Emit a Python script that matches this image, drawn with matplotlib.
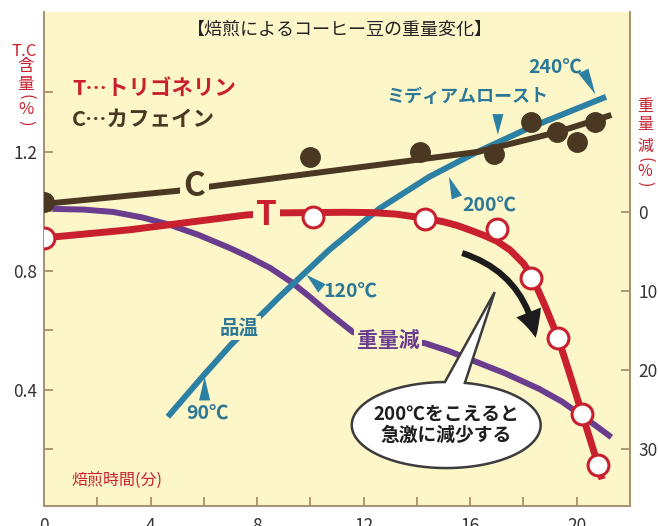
import matplotlib
matplotlib.use('Agg')
import matplotlib.pyplot as plt
import numpy as np
from matplotlib.path import Path
from matplotlib.patches import PathPatch

plt.rcParams['font.family'] = ['Noto Sans CJK JP', 'DejaVu Sans']

# ---------------- data ----------------
# roasting time in minutes
caffeine_t = [0, 10.0, 14.1, 16.9, 18.3, 19.25, 20.0, 20.7]
caffeine_v = [1.03, 1.183, 1.20, 1.193, 1.30, 1.267, 1.234, 1.30]
caffeine_fit_t = [0, 5, 8.8, 12, 16.3, 19.3, 21.3]
caffeine_fit_v = [1.025, 1.069, 1.113, 1.15, 1.20, 1.267, 1.324]

trig_t = [0, 10.1, 14.3, 17.0, 18.3, 19.3, 20.2, 20.8]
trig_v = [0.911, 0.98, 0.975, 0.94, 0.776, 0.575, 0.32, 0.148]
trig_fit_t = [0, 3.2, 7.6, 8.8, 10.1, 11.3, 12.3, 13.2, 14.3, 15.0, 15.5, 16.0, 16.5,
              17.0, 17.5, 18.0, 18.3, 18.8, 19.3, 19.75, 20.2, 20.5, 20.8, 20.95]
trig_fit_v = [0.911, 0.938, 0.988, 0.995, 0.996, 0.997, 0.996, 0.991, 0.977, 0.965,
              0.953, 0.937, 0.92, 0.90, 0.87, 0.825, 0.785, 0.685, 0.575, 0.45,
              0.32, 0.235, 0.148, 0.10]

# weight loss (%), right axis
loss_t = [0.2, 1.5, 2.6, 3.7, 4.7, 5.8, 7.0, 7.7, 8.5, 9.3, 10.0, 10.7, 11.6, 12.9,
          14.3, 15.2, 16.1, 17.3, 18.6, 19.45, 20.7, 21.3]
loss_v = [-0.4, -0.3, 0.0, 0.7, 1.6, 2.9, 4.6, 5.7, 7.1, 8.9, 10.8, 12.8, 15.2, 16.0,
          16.6, 17.6, 18.8, 20.4, 22.4, 24.0, 27.0, 28.5]

# bean temperature curve (drawn in left-axis units, no own scale)
temp_t = [4.65, 6.0, 7.0, 8.84, 10.7, 12.6, 14.46, 16.2, 18.2, 21.1]
temp_v = [0.31, 0.45, 0.55, 0.713, 0.87, 1.01, 1.116, 1.197, 1.28, 1.385]

x_major = [0, 4, 8, 12, 16, 20]
x_labels = ['0', '4', '8', '12', '16', '20']
x_minor = [2, 6, 10, 14, 18]
yl_major = [0.4, 0.8, 1.2]
yl_labels = ['0.4', '0.8', '1.2']
yl_minor = [0.2, 0.6, 1.0, 1.4]
yr_major = [0, 10, 20, 30]
yr_labels = ['0', '10', '20', '30']

# ---------------- styles ----------------
BG = '#fdf6c9'
RED = '#c8202f'
BROWN = '#4a3822'
PURPLE = '#6b3d8e'
BLUE = '#2b80a4'
BLUE_T = '#2d7896'
SPINE = '#a8906e'
W, H = 658, 526

fig = plt.figure(figsize=(W / 100, H / 100), dpi=100)
ax = fig.add_axes([44 / W, 20 / H, 586 / W, 494 / H])
ax2 = ax.twinx()
ax.set_zorder(ax2.get_zorder() + 1)
ax.patch.set_visible(False)
ax2.patch.set_visible(True)
ax2.patch.set_facecolor(BG)

ax.set_xlim(0, 22)
ax.set_ylim(0.01, 1.67)
ax2.set_ylim(37.2, -25.3)

for s in ['top', 'right']:
    ax.spines[s].set_visible(False)
for s in ['top', 'left', 'bottom']:
    ax2.spines[s].set_visible(False)
for s in ['left', 'bottom']:
    ax.spines[s].set_color(SPINE)
    ax.spines[s].set_linewidth(1.4)
ax2.spines['right'].set_color(SPINE)
ax2.spines['right'].set_linewidth(1.4)

ax.set_xticks(x_major)
ax.set_xticklabels(x_labels)
ax.set_xticks(x_minor, minor=True)
ax.set_yticks(yl_major)
ax.set_yticklabels(yl_labels)
ax.set_yticks(yl_minor, minor=True)
ax2.set_yticks(yr_major)
ax2.set_yticklabels(yr_labels)

for a in (ax, ax2):
    a.tick_params(which='both', direction='in', length=6.5, width=1.3,
                  color=SPINE, labelsize=12.5, labelcolor='#333333')
ax.tick_params(axis='x', which='both', pad=8)
ax.tick_params(axis='y', which='both', pad=5)
ax2.tick_params(axis='y', which='both', pad=6)

# ---------------- series ----------------
ax2.plot(loss_t, loss_v, color=PURPLE, lw=4.3, solid_capstyle='butt',
         solid_joinstyle='round', zorder=2)
ax2.text(12.92, 16.3, '重量減', color=PURPLE, fontsize=15, weight='bold',
         ha='center', va='center', zorder=3,
         bbox=dict(boxstyle='square,pad=0.12', fc=BG, ec='none'))

ax.plot(temp_t, temp_v, color=BLUE, lw=4.3, solid_capstyle='butt',
        solid_joinstyle='round', zorder=2)
ax.plot(caffeine_fit_t, caffeine_fit_v, color=BROWN, lw=4.3,
        solid_capstyle='butt', solid_joinstyle='round', zorder=3)
ax.plot(caffeine_t, caffeine_v, 'o', color=BROWN, ms=14, zorder=4)
ax.plot(trig_fit_t, trig_fit_v, color=RED, lw=5, solid_capstyle='butt',
        solid_joinstyle='round', zorder=3)
ax.plot(trig_t, trig_v, 'o', mfc='white', mec=RED, mew=2.2, ms=15, zorder=5)

# line labels
ax.text(5.65, 1.085, 'C', color=BROWN, fontsize=24, weight='bold',
        ha='center', va='center', zorder=6,
        bbox=dict(boxstyle='square,pad=0.12', fc=BG, ec='none'))
ax.text(8.35, 0.985, 'T', color=RED, fontsize=24, weight='bold',
        ha='center', va='center', zorder=6,
        bbox=dict(boxstyle='square,pad=0.08', fc=BG, ec='none'))
ax.text(7.32, 0.608, '品温', color=BLUE_T, fontsize=14, weight='bold',
        ha='center', va='center', zorder=6,
        bbox=dict(boxstyle='square,pad=0.15', fc=BG, ec='none'))

# temperature annotations
def wedge(tip, off, w=0.8):
    ax.annotate('', xy=tip, xytext=off, textcoords='offset points',
                arrowprops=dict(arrowstyle='wedge,tail_width=%s,shrink_factor=0.5' % w,
                                fc=BLUE, ec='none', shrinkA=0, shrinkB=0),
                zorder=6)

wedge((6.03, 0.444), (0, -17))
wedge((9.85, 0.787), (11.2, -9.8))
wedge((15.2, 1.116), (5.8, -14.8))
wedge((17.04, 1.257), (0, 15))
wedge((20.7, 1.393), (-8.6, 16.8))

tkw = dict(color=BLUE_T, fontsize=14, weight='bold', ha='center', va='center', zorder=6)
ax.text(6.12, 0.319, '90℃', **tkw)
ax.text(11.52, 0.729, '120℃', **tkw)
ax.text(16.73, 1.018, '200℃', **tkw)
ax.text(19.21, 1.482, '240℃', **tkw)
ax.text(15.91, 1.385, 'ミディアムロースト', color=BLUE_T, fontsize=13, weight='bold',
        ha='center', va='center', zorder=6)

# black curved arrow
ax.annotate('', xy=(18.46, 0.575), xytext=(15.7, 0.86),
            arrowprops=dict(arrowstyle='simple,tail_width=0.22,head_width=0.95,head_length=0.95',
                            connectionstyle='arc3,rad=-0.3', fc='#1c1c1c', ec='none',
                            mutation_scale=20, shrinkA=0, shrinkB=0), zorder=6)

# speech bubble
cx, cy, a, b = 15.1, 0.282, 3.546, 0.1445
th1, th2 = np.deg2rad(90.8), np.deg2rad(78.6 + 360)
th = np.linspace(th1, th2, 200)
verts = list(zip(cx + a * np.cos(th), cy + b * np.sin(th)))
verts.append((16.92, 0.729))
verts.append(verts[0])
codes = [Path.MOVETO] + [Path.LINETO] * (len(verts) - 2) + [Path.CLOSEPOLY]
ax.add_patch(PathPatch(Path(verts, codes), fc='white', ec='#3c3c3c', lw=1.8,
                       joinstyle='miter', zorder=7))
ax.text(cx, cy, '200℃をこえると\n急激に減少する', fontsize=13.5, weight='bold',
        color='#1e1e1e', ha='center', va='center', linespacing=1.15, zorder=8)

# legend-like texts, title, x label
ax.text(1.05, 1.415, 'T…トリゴネリン', color=RED, fontsize=15.5, weight='bold',
        ha='left', va='center', zorder=6)
ax.text(1.05, 1.308, 'C…カフェイン', color=BROWN, fontsize=15.5, weight='bold',
        ha='left', va='center', zorder=6)
ax.text(11.1, 1.61, '【焙煎によるコーヒー豆の重量変化】', color='#222222', fontsize=13,
        ha='center', va='center', zorder=6)
ax.text(1.05, 0.094, '焙煎時間(分)', color=RED, fontsize=11.5,
        ha='left', va='center', zorder=6)

# axis titles outside the axes (vertical Japanese)
def ftext(px, py, s, **kw):
    fig.text(px / W, 1 - py / H, s, ha='center', va='center', **kw)

lkw = dict(color=RED, fontsize=12)
ftext(24, 51, 'T.C', **lkw)
ftext(26, 67, '含', **lkw)
ftext(26, 84, '量', **lkw)
ftext(26, 97, '(', rotation=-90, **lkw)
ftext(26, 109, '%', **lkw)
ftext(26, 123, ')', rotation=-90, **lkw)

rkw = dict(color=RED, fontsize=11.5)
ftext(645, 107, '重', **rkw)
ftext(645, 125, '量', **rkw)
ftext(645, 146, '減', **rkw)
ftext(645, 160, '(', rotation=-90, **rkw)
ftext(645, 171, '%', **rkw)
ftext(645, 184, ')', rotation=-90, **rkw)

fig.savefig('out.png', dpi=100)
